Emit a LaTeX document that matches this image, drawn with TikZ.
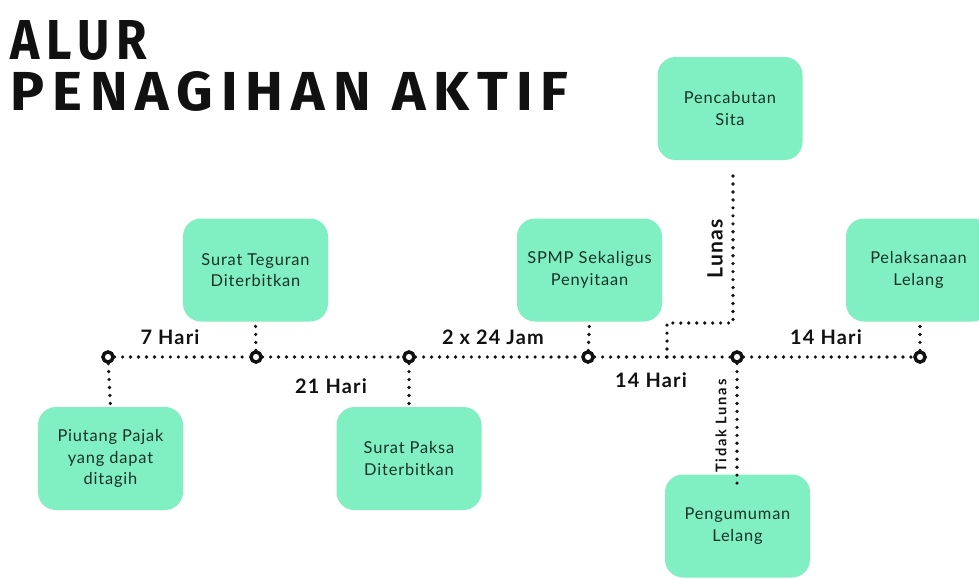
\documentclass[tikz,border=0pt]{standalone}
\usepackage{fontspec}
\usepackage{graphicx}
\setmainfont{Lato}
\newfontfamily\titlefont[LetterSpace=14]{Fira Sans}
\newfontfamily\boxfont[LetterSpace=5]{Lato}
\newfontfamily\labfont[LetterSpace=6]{Lato}
\newfontfamily\smallfont[LetterSpace=12]{Lato}
\definecolor{mint}{HTML}{80EFC1}
\definecolor{boxtext}{HTML}{1A3328}
\definecolor{ink}{HTML}{111111}
\tikzset{
  stepbox/.style={fill=mint, rounded corners=0.54cm, minimum width=4.35cm, minimum height=3.09cm, align=center, text=boxtext, font=\boxfont\fontsize{14}{18.5}\selectfont, inner sep=0pt},
  dotline/.style={draw=ink, line width=3.1pt, dash pattern=on 0pt off 6.8pt, line cap=round},
  knot/.style={circle, draw=ink, line width=2.8pt, fill=white, minimum size=8.5pt, inner sep=0pt},
  daylabel/.style={font=\labfont\bfseries\fontsize{17}{20}\selectfont, text=ink, inner sep=0pt},
}
\begin{document}
\begin{tikzpicture}[x=0.03cm, y=-0.03cm]
\clip (0,0) rectangle (979,578);
\fill[white] (0,0) rectangle (979,578);
% title
\node[anchor=south west, inner sep=0pt, text=ink] (t1) at (10,61) {\resizebox{4.11cm}{1.17cm}{\titlefont\bfseries ALUR}};
\node[anchor=south west, inner sep=0pt, text=ink] (t2) at (10,112) {\resizebox{16.74cm}{1.17cm}{\titlefont\bfseries PENAGIHAN AKTIF}};
% boxes
\node[stepbox] (b1) at (110.5,458.5) {Piutang Pajak\\yang dapat\\ditagih};
\node[stepbox] (b2) at (255.5,270) {Surat Teguran\\Diterbitkan};
\node[stepbox] (b3) at (409,458.5) {Surat Paksa\\Diterbitkan};
\node[stepbox] (b4) at (589.5,270) {SPMP Sekaligus\\Penyitaan};
\node[stepbox] (b5) at (730,108.5) {Pencabutan\\Sita};
\node[stepbox] (b6) at (918.5,270) {Pelaksanaan\\Lelang};
\node[stepbox] (b7) at (737.5,526) {Pengumuman\\Lelang};
% knots
\node[knot] (d1) at (108,357) {};
\node[knot] (d2) at (256,357) {};
\node[knot] (d3) at (409,357) {};
\node[knot] (d4) at (588,357) {};
\node[knot] (d5) at (737,357) {};
\node[knot] (d6) at (920,357) {};
\coordinate (lunasA) at (667,357);
\coordinate (lunasB) at (667,323);
\coordinate (lunasC) at (733,323);
\coordinate (lunasD) at (733,170);
\coordinate (tlEnd) at (737,490);
% connectors
\draw[dotline] (d1) -- (d2);
\draw[dotline] (d2) -- (d3);
\draw[dotline] (d3) -- (d4);
\draw[dotline] (d4) -- (d5);
\draw[dotline] (d5) -- (d6);
\draw[dotline] (d1) -- (b1.north);
\draw[dotline] (d2) -- (b2.south);
\draw[dotline] (d3) -- (b3.north);
\draw[dotline] (d4) -- (b4.south);
\draw[dotline] (d6) -- (d6 |- b6.south);
\draw[dotline] (lunasA) -- (lunasB) -- (lunasC) -- (lunasD);
\draw[dotline] (d5) -- (tlEnd);
% redraw knots on top
\foreach \k in {d1,d2,d3,d4,d5,d6} {\node[knot] at (\k) {};}
% labels
\node[daylabel] (l1) at (170,337) {7 Hari};
\node[daylabel] (l2) at (331,386) {21 Hari};
\node[daylabel] (l3) at (493,337) {2 x 24 Jam};
\node[daylabel] (l4) at (651,380) {14 Hari};
\node[daylabel] (l5) at (826,337) {14 Hari};
\node[rotate=90, font=\labfont\bfseries\fontsize{18}{20}\selectfont, text=ink, inner sep=0pt] (lun) at (715,249) {Lunas};
\node[rotate=90, font=\smallfont\bfseries\fontsize{12.5}{14}\selectfont, text=ink, inner sep=0pt] (tl) at (721,426) {Tidak Lunas};
\end{tikzpicture}
\end{document}
